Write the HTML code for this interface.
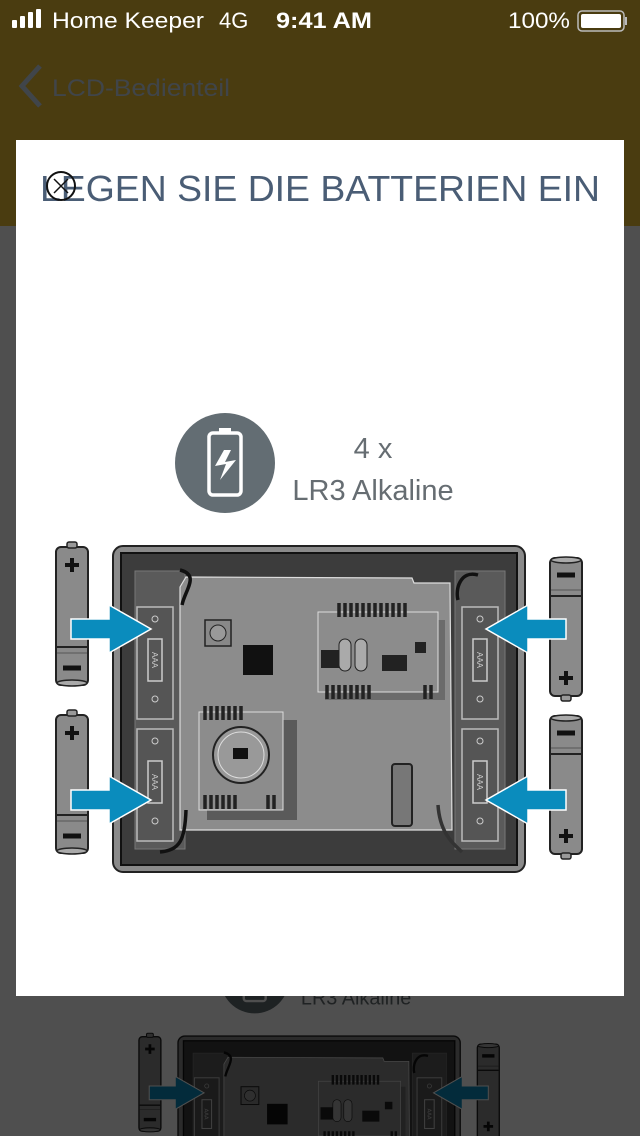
<!DOCTYPE html>
<html><head><meta charset="utf-8"><style>
html,body{margin:0;padding:0;width:640px;height:1136px;overflow:hidden;background:#4f4f4f;font-family:"Liberation Sans",sans-serif}
svg{display:block}
</style></head><body>
<svg width="640" height="1136" viewBox="0 0 640 1136" xmlns="http://www.w3.org/2000/svg" style="position:absolute;left:0;top:0">
<defs>
<g id="bat">
 <rect x="0" y="2" width="32" height="138" rx="5" fill="#8a8a8a" stroke="#222" stroke-width="2"/>
 <rect x="11" y="-3" width="10" height="6" rx="2" fill="#999" stroke="#222" stroke-width="1.5"/>
 <path d="M1 102 H31" stroke="#222" stroke-width="2"/>
 <path d="M1 108 H31" stroke="#555" stroke-width="1"/>
 <ellipse cx="16" cy="138" rx="15" ry="3" fill="#aaa" stroke="#222" stroke-width="1.5"/>
 <path d="M16 13 v14 M9 20 h14" stroke="#111" stroke-width="4"/>
 <path d="M7 123 h18" stroke="#111" stroke-width="5"/>
</g>
<g id="arrR"><polygon points="0,-10 38,-10 38,-24 80,0 38,24 38,10 0,10" fill="#0a8cbd" stroke="#fff" stroke-width="1.5"/></g>
<g id="comp">
 <rect x="0" y="0" width="36" height="112" fill="#555" stroke="#bbb" stroke-width="1.5"/>
 <circle cx="18" cy="12" r="3" fill="none" stroke="#ccc"/>
 <rect x="11" y="32" width="14" height="42" fill="none" stroke="#ccc" stroke-width="1.5"/>
 <text x="18" y="56" font-size="8" fill="#ccc" text-anchor="middle" transform="rotate(90 18 53)">AAA</text>
 <circle cx="18" cy="92" r="3" fill="none" stroke="#ccc"/>
</g>
<g id="scene">
 <circle cx="225" cy="463" r="50" fill="#636d73"/>
 <rect x="209" y="433" width="32" height="62" rx="4" fill="none" stroke="#fff" stroke-width="3.5"/>
 <rect x="219" y="428" width="12" height="6" fill="#fff"/>
 <path d="M224 450 L215 466 L226 464 L220 480 L236 460 L225 462 L231 450 Z" fill="#fff"/>
 <text x="373" y="458" font-size="29" fill="#666d72" text-anchor="middle">4 x</text>
 <text x="373" y="500" font-size="29" fill="#666d72" text-anchor="middle">LR3 Alkaline</text>
 <rect x="113" y="546" width="412" height="326" rx="10" fill="#8a8a8a" stroke="#222" stroke-width="2"/>
 <rect x="121" y="553" width="396" height="312" fill="#3c3c3c" stroke="#111" stroke-width="2"/>
 <rect x="135" y="571" width="50" height="278" fill="#5a5a5a" stroke="#777"/>
 <rect x="455" y="571" width="50" height="278" fill="#5a5a5a" stroke="#777"/>
 <polygon points="180,587 186,577 412,578 414,583 450,583 452,830 180,830" fill="#8c8c8c" stroke="#ddd" stroke-width="1.2"/>
 <use href="#comp" x="137" y="607"/>
 <use href="#comp" x="137" y="729"/>
 <use href="#comp" x="462" y="607"/>
 <use href="#comp" x="462" y="729"/>
 <path d="M180 570 C200 575 185 590 182 605" stroke="#111" stroke-width="3.5" fill="none"/>
 <path d="M478 575 C460 570 455 590 458 600" stroke="#111" stroke-width="3.5" fill="none"/>
 <path d="M186 810 C185 840 180 850 160 852" stroke="#111" stroke-width="3.5" fill="none"/>
 <path d="M438 805 C440 835 455 845 462 852" stroke="#333" stroke-width="3.5" fill="none"/>
 <rect x="205" y="620" width="26" height="26" fill="#888" stroke="#222" stroke-width="1.5"/>
 <circle cx="218" cy="633" r="8" fill="#999" stroke="#222"/>
 <rect x="243" y="645" width="30" height="30" fill="#111"/>
 <rect x="325" y="620" width="120" height="80" fill="#555" opacity=".6"/>
 <rect x="318" y="612" width="120" height="80" fill="#8c8c8c" stroke="#ddd"/>
 <path d="M339 603 v14 M345 603 v14 M351 603 v14 M357 603 v14 M363 603 v14 M369 603 v14 M375 603 v14 M381 603 v14 M387 603 v14 M393 603 v14 M399 603 v14 M405 603 v14" stroke="#222" stroke-width="3.5"/>
 <path d="M327 685 v14 M333 685 v14 M339 685 v14 M345 685 v14 M351 685 v14 M357 685 v14 M363 685 v14 M369 685 v14 M425 685 v14 M431 685 v14" stroke="#222" stroke-width="3.5"/>
 <rect x="321" y="650" width="24" height="18" fill="#222"/>
 <rect x="339" y="639" width="12" height="32" rx="6" fill="#aaa" stroke="#222"/>
 <rect x="355" y="639" width="12" height="32" rx="6" fill="#aaa" stroke="#222"/>
 <rect x="382" y="655" width="25" height="16" fill="#222"/>
 <rect x="415" y="642" width="11" height="11" fill="#222"/>
 <rect x="207" y="720" width="90" height="100" fill="#444" opacity=".7"/>
 <rect x="199" y="712" width="84" height="98" fill="#8c8c8c" stroke="#ddd"/>
 <path d="M205 706 v14 M211 706 v14 M217 706 v14 M223 706 v14 M229 706 v14 M235 706 v14 M241 706 v14 M205 795 v14 M211 795 v14 M217 795 v14 M223 795 v14 M229 795 v14 M235 795 v14 M268 795 v14 M274 795 v14" stroke="#222" stroke-width="3.5"/>
 <circle cx="241" cy="755" r="28" fill="#999" stroke="#222" stroke-width="2"/>
 <circle cx="241" cy="755" r="23" fill="none" stroke="#ddd"/>
 <rect x="233" y="748" width="15" height="11" fill="#111"/>
 <rect x="392" y="764" width="20" height="62" rx="3" fill="#777" stroke="#222" stroke-width="2"/>
 <use href="#bat" x="56" y="545"/>
 <use href="#bat" x="56" y="713"/>
 <g transform="rotate(180 566 629)"><use href="#bat" x="550" y="560"/></g>
 <g transform="rotate(180 566 787)"><use href="#bat" x="550" y="718"/></g>
 <use href="#arrR" x="71" y="629"/>
 <use href="#arrR" x="71" y="800"/>
 <g transform="translate(566 629) scale(-1 1)"><use href="#arrR"/></g>
 <g transform="translate(566 800) scale(-1 1)"><use href="#arrR"/></g>
</g>
</defs>
<!-- header -->
<rect x="0" y="0" width="640" height="226" fill="#4a3c10"/>
<g fill="#fff"><rect x="12" y="20" width="5" height="8" rx="1"/><rect x="20" y="16" width="5" height="12" rx="1"/><rect x="28" y="12" width="5" height="16" rx="1"/><rect x="36" y="9" width="5" height="19" rx="1"/></g>
<text x="52" y="28" font-size="22" fill="#fff" textLength="152" lengthAdjust="spacingAndGlyphs">Home Keeper</text>
<text x="219" y="28" font-size="22" fill="#fff">4G</text>
<text x="276" y="28" font-size="22" fill="#fff" font-weight="bold" textLength="96" lengthAdjust="spacingAndGlyphs">9:41 AM</text>
<text x="508" y="28" font-size="22" fill="#fff" textLength="62" lengthAdjust="spacingAndGlyphs">100%</text>
<rect x="578" y="11" width="46" height="20" rx="4" fill="none" stroke="#bbb" stroke-width="1.5"/>
<rect x="581" y="14" width="40" height="14" rx="2" fill="#fff"/>
<rect x="625" y="17" width="2" height="8" fill="#bbb"/>
<path d="M40 66 L22 86 L40 106" stroke="#40454a" stroke-width="5" fill="none"/>
<text x="52" y="96" font-size="24" fill="#40454a" textLength="178" lengthAdjust="spacingAndGlyphs">LCD-Bedienteil</text>
<!-- dimmed background copy -->
<rect x="0" y="226" width="640" height="910" fill="#fff"/>
<g transform="translate(100.6 662) scale(0.685)"><use href="#scene"/></g>
<rect x="0" y="226" width="640" height="910" fill="#000" opacity="0.69"/>
<!-- modal -->
<rect x="16" y="140" width="608" height="856" fill="#fff"/>
<text x="320" y="201" font-size="36" fill="#4a5d75" text-anchor="middle" textLength="560" lengthAdjust="spacingAndGlyphs">LEGEN SIE DIE BATTERIEN EIN</text>
<circle cx="61" cy="186" r="14" fill="none" stroke="#111" stroke-width="2"/>
<path d="M54 179 L68 193 M68 179 L54 193" stroke="#111" stroke-width="1.5"/>
<use href="#scene"/>
</svg>
</body></html>
